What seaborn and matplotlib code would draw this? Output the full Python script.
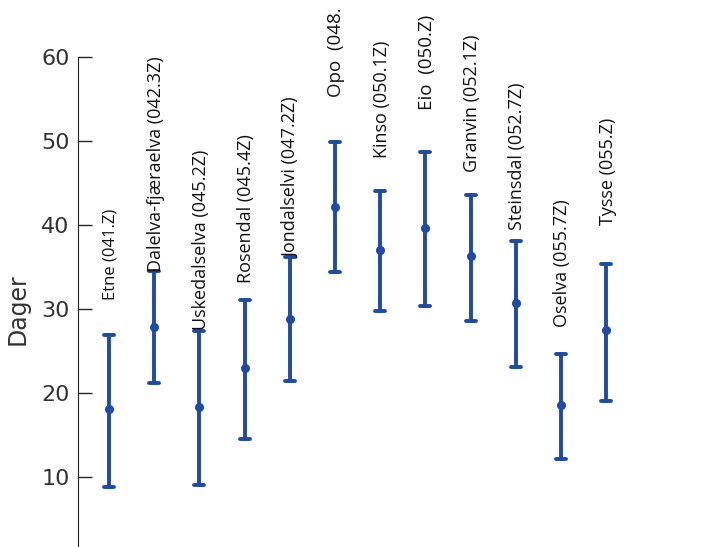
import numpy as np
import pandas as pd
import seaborn as sns
from matplotlib import pyplot as plt

# Stations, and read-off values (days): lower bound, middle, upper bound
stations = [
    "Etne (041.Z)",
    "Dalelva-fjæraelva (042.3Z)",
    "Uskedalselva (045.2Z)",
    "Rosendal (045.4Z)",
    "Jondalselvi (047.2Z)",
    "Opo  (048.",
    "Kinso (050.1Z)",
    "Eio  (050.Z)",
    "Granvin (052.1Z)",
    "Steinsdal (052.7Z)",
    "Oselva (055.7Z)",
    "Tysse (055.Z)",
]
low = [8.8, 21.2, 9.0, 14.5, 21.4, 34.4, 29.8, 30.4, 28.6, 23.1, 12.1, 19.0]
mid = [18.1, 27.9, 18.3, 23.0, 28.8, 42.1, 37.0, 39.6, 36.3, 30.7, 18.6, 27.5]
high = [26.9, 34.5, 27.4, 31.1, 36.2, 49.9, 44.0, 48.7, 43.6, 38.1, 24.6, 35.4]
# where the rotated station names start (bottom of text, days)
label_y = [31.1, 34.4, 27.5, 33.1, 36.1, 55.2, 48.0, 53.7, 46.3, 39.4, 27.9, 40.0]
label_size = [12, 13, 13, 13, 13, 13.5, 13, 13.5, 13, 13, 13, 13]

if __name__ == "__main__":
    sns.set_style("ticks")
    plt.rcParams["font.family"] = ["DejaVu Sans"]

    rows = []
    for s, lo, m, hi in zip(stations, low, mid, high):
        for v in (lo, m, hi):
            rows.append({"Stasjon": s, "Dager": v})
    df = pd.DataFrame(rows)

    fig = plt.figure(figsize=(7.28, 5.47), dpi=100)
    ax = fig.add_axes([78 / 728, 1 - 561 / 547, 650 / 728, 504 / 547])
    color = "#1f4aa6"
    sns.pointplot(
        data=df,
        x="Stasjon",
        y="Dager",
        order=stations,
        estimator="median",
        errorbar=("pi", 100),
        linestyle="none",
        marker="o",
        markersize=4.5,
        capsize=0.22,
        color=color,
        err_kws={"linewidth": 2.8},
        ax=ax,
    )
    for i, (name, ly, fs) in enumerate(zip(stations, label_y, label_size)):
        ax.text(
            i + 0.03, ly, name, rotation=90, ha="center", va="bottom",
            fontsize=fs, color="#111111", clip_on=False,
            family=["Open Sans", "DejaVu Sans"],
        )

    ax.set_ylim(0, 60)
    ax.set_xlim(-0.686, -0.686 + 650 / 45.2)
    ax.set_yticks([10, 20, 30, 40, 50, 60])
    ax.tick_params(axis="y", direction="in", length=10, width=1,
                   labelsize=16, labelcolor="#333333", pad=6)
    ax.set_xticks([])
    ax.set_xlabel("")
    ax.set_ylabel("Dager", fontsize=17, color="#333333", labelpad=8)
    sns.despine(ax=ax, bottom=True)
    ax.spines["left"].set_color("#222222")
    fig.savefig("out.png", dpi=100)
